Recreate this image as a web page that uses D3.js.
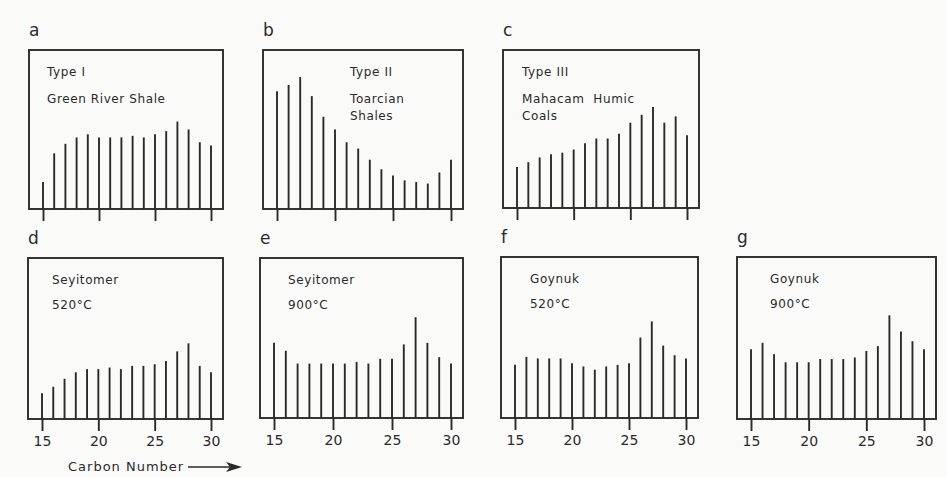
<!DOCTYPE html>
<html>
<head>
<meta charset="utf-8">
<script src="https://cdn.jsdelivr.net/npm/d3@7"></script>
<style>
  body { margin: 0; background: #fafaf9; }
  svg { display: block; }
</style>
</head>
<body>
<svg id="chart"></svg>
<script>
// n-alkane distributions, relative heights (0-100 = box height)
const carbonNumbers = [15, 16, 17, 18, 19, 20, 21, 22, 23, 24, 25, 26, 27, 28, 29, 30]
const tickLabels = [15, 20, 25, 30]

const typeI = [17, 35, 41, 45, 47, 45, 45, 45, 46, 45, 47, 49, 55, 50, 42, 40]
const typeII = [74, 78, 83, 71, 58, 50, 42, 38, 31, 25, 21, 18, 17, 16, 23, 31]
const typeIII = [26, 29, 32, 34, 35, 37, 41, 44, 44, 47, 54, 59, 64, 54, 58, 46]
const seyitomer520 = [16, 20, 25, 29, 31, 31, 32, 31, 33, 33, 34, 36, 42, 47, 33, 29]
const seyitomer900 = [47, 42, 34, 34, 34, 34, 34, 35, 34, 37, 37, 46, 63, 47, 38, 34]
const goynuk520 = [33, 38, 37, 37, 37, 34, 32, 30, 32, 33, 34, 50, 60, 45, 39, 37]
const goynuk900 = [43, 47, 40, 35, 35, 35, 37, 37, 37, 38, 42, 45, 64, 54, 48, 43]

const width = 947
const height = 477
const ink = '#2a2a2a'
const font = '"DejaVu Sans", sans-serif'

const panels = [
    { letter: 'a', x: 29, y: 50, w: 194, h: 159, values: typeI, labels: false,
      text: [['Type I', 18, 26], ['Green River Shale', 18, 53]] },
    { letter: 'b', x: 263, y: 50, w: 200, h: 159, values: typeII, labels: false,
      text: [['Type II', 87, 26], ['Toarcian', 87, 53], ['Shales', 87, 70]] },
    { letter: 'c', x: 503, y: 50, w: 196, h: 158, values: typeIII, labels: false,
      text: [['Type III', 19, 26], ['Mahacam  Humic', 19, 53], ['Coals', 19, 70]] },
    { letter: 'd', x: 28, y: 258, w: 195, h: 161, values: seyitomer520, labels: true,
      text: [['Seyitomer', 24, 26], ['520\u00B0C', 24, 51]] },
    { letter: 'e', x: 260, y: 258, w: 203, h: 160, values: seyitomer900, labels: true,
      text: [['Seyitomer', 28, 26], ['900\u00B0C', 28, 51]] },
    { letter: 'f', x: 501, y: 257, w: 197, h: 161, values: goynuk520, labels: true,
      text: [['Goynuk', 29, 26], ['520\u00B0C', 29, 51]] },
    { letter: 'g', x: 737, y: 257, w: 199, h: 162, values: goynuk900, labels: true,
      text: [['Goynuk', 33, 26], ['900\u00B0C', 33, 51]] }
]

const svg = d3.select('#chart')
    .attr('width', width)
    .attr('height', height)
    .style('font-family', font)

panels.forEach(function (p) {
    const g = svg.append('g').attr('transform', 'translate(' + p.x + ',' + p.y + ')')

    const x = d3.scaleLinear()
        .domain([15, 30])
        .range([14, p.w - 12])
    const y = d3.scaleLinear()
        .domain([0, 100])
        .range([p.h, 0])

    // panel letter
    svg.append('text')
        .attr('x', p.x)
        .attr('y', p.y - 14)
        .attr('fill', ink)
        .style('font-size', '17px')
        .text(p.letter)

    // bars (stick spectrum)
    g.selectAll('.bar')
        .data(p.values)
        .enter()
        .append('line')
        .attr('class', 'bar')
        .attr('x1', (d, i) => x(carbonNumbers[i]))
        .attr('x2', (d, i) => x(carbonNumbers[i]))
        .attr('y1', y(0))
        .attr('y2', d => y(d))
        .attr('stroke', ink)
        .attr('stroke-width', 1.9)

    // frame
    g.append('rect')
        .attr('width', p.w)
        .attr('height', p.h)
        .attr('fill', 'none')
        .attr('stroke', ink)
        .attr('stroke-width', 1.9)

    // x axis
    const axis = d3.axisBottom(x)
        .tickValues(tickLabels)
        .tickSizeInner(12)
        .tickSizeOuter(0)
        .tickPadding(5)
        .tickFormat(p.labels ? d3.format('d') : '')
    const ax = g.append('g')
        .attr('transform', 'translate(0,' + p.h + ')')
        .call(axis)
    ax.select('.domain').remove()
    ax.selectAll('.tick line').attr('stroke', ink).attr('stroke-width', 1.9)
    ax.selectAll('.tick text')
        .attr('fill', ink)
        .style('font-family', font)
        .style('font-size', '14px')

    // annotation text
    p.text.forEach(function (t) {
        g.append('text')
            .attr('x', t[1])
            .attr('y', t[2])
            .attr('fill', ink)
            .style('font-size', '12px')
            .style('letter-spacing', '0.6px')
            .style('white-space', 'pre')
            .text(t[0])
    })
})

// axis title with arrow under panel d
const title = svg.append('g')
title.append('text')
    .attr('x', 68)
    .attr('y', 471)
    .attr('fill', ink)
    .style('font-size', '13px')
    .style('letter-spacing', '1px')
    .text('Carbon Number')
title.append('line')
    .attr('x1', 188).attr('x2', 232)
    .attr('y1', 467).attr('y2', 467)
    .attr('stroke', ink)
    .attr('stroke-width', 1.5)
title.append('path')
    .attr('d', 'M226,462 L242,467 L226,472 L230,467 Z')
    .attr('fill', ink)
</script>
</body>
</html>
